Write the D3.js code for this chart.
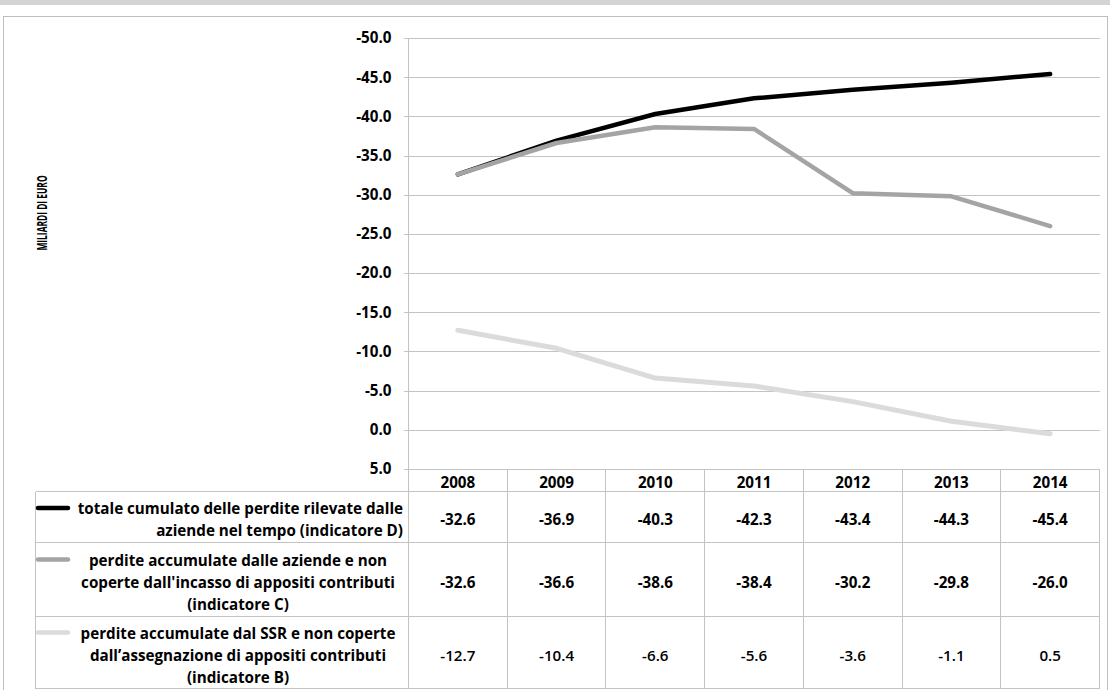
<!DOCTYPE html>
<html>
<head>
<meta charset="utf-8">
<script src="https://cdn.jsdelivr.net/npm/d3@7"></script>
<style>
  html, body { margin: 0; padding: 0; background: #fff; }
  svg { display: block; }
  text { font-family: "Open Sans", Lato, sans-serif; fill: #000; }
</style>
</head>
<body>
<svg id="chart" width="1110" height="690"></svg>
<script>
// Years shown on the category axis and in the data table header
const years = ["2008", "2009", "2010", "2011", "2012", "2013", "2014"];

// Indicatore D: totale cumulato delle perdite
const indicatoreD = [-32.6, -36.9, -40.3, -42.3, -43.4, -44.3, -45.4];
// Indicatore C: perdite non coperte dall'incasso di appositi contributi
const indicatoreC = [-32.6, -36.6, -38.6, -38.4, -30.2, -29.8, -26.0];
// Indicatore B: perdite del SSR non coperte da appositi contributi
const indicatoreB = [-12.7, -10.4, -6.6, -5.6, -3.6, -1.1, 0.5];

// Value axis tick labels
const yTicks = [-50, -45, -40, -35, -30, -25, -20, -15, -10, -5, 0, 5];

// Legend text of each table row, split into lines
const labelD = ["totale cumulato delle perdite rilevate dalle", "aziende nel tempo (indicatore D)"];
const labelC = ["perdite accumulate dalle aziende e non", "coperte dall'incasso di appositi contributi", "(indicatore C)"];
const labelB = ["perdite accumulate dal SSR e non coperte", "dall\u2019assegnazione di appositi contributi", "(indicatore B)"];

const series = [
  { name: "D", values: indicatoreD, label: labelD, color: "#000000", width: 4.5 },
  { name: "C", values: indicatoreC, label: labelC, color: "#a6a4a2", width: 4.5 },
  { name: "B", values: indicatoreB, label: labelB, color: "#dcdbda", width: 5 }
];

const svg = d3.select("#chart");
const gridColor = "#c3c3c3";
const fontSize = 15.2;

// Number format with a plain hyphen as minus sign
const locale = d3.formatLocale({ decimal: ".", thousands: "", grouping: [3], currency: ["", ""], minus: "-" });
const fmt = locale.format(".1f");

// Window band and chart frame
svg.append("rect").attr("x", 0).attr("y", 0).attr("width", 1110).attr("height", 5).attr("fill", "#d4d4d4");
svg.append("rect").attr("x", 3.5).attr("y", 16.5).attr("width", 1104).attr("height", 690)
  .attr("fill", "none").attr("stroke", "#bdbdbd");

const plot = { left: 408.5, right: 1099.5, top: 38, bottom: 469 };

const x = d3.scaleBand().domain(years).range([plot.left, plot.right]).padding(0);
const y = d3.scaleLinear().domain([-50, 5]).range([plot.top, plot.bottom]);

// Horizontal gridlines (with outer tick marks) and value labels
const yAxis = d3.axisLeft(y).tickValues(yTicks).tickFormat(fmt)
  .tickSize(-(plot.right - plot.left)).tickPadding(17);
const gy = svg.append("g").attr("transform", `translate(${plot.left},0)`).call(yAxis);
gy.select(".domain").remove();
gy.selectAll(".tick line").attr("stroke", gridColor).attr("x1", -5)
  .attr("shape-rendering", "crispEdges");
gy.selectAll(".tick text").attr("font-size", fontSize).attr("font-weight", 700)
  .attr("font-family", "'Open Sans', sans-serif").attr("fill", "#000");
// Vertical value axis line
svg.append("line").attr("x1", plot.left).attr("x2", plot.left)
  .attr("y1", plot.top).attr("y2", plot.bottom).attr("stroke", gridColor)
  .attr("shape-rendering", "crispEdges");

// Axis title (condensed, rotated)
svg.append("text")
  .attr("transform", "translate(41,213) rotate(-90) scale(1,1.7)")
  .attr("text-anchor", "middle").attr("dominant-baseline", "central")
  .attr("font-family", "Lato, sans-serif")
  .attr("font-size", 8.4).attr("font-weight", 700)
  .text("MILIARDI DI EURO");

// Series lines
const line = d3.line()
  .x((d, i) => x(years[i]) + x.bandwidth() / 2)
  .y(d => y(d));
svg.append("g").selectAll("path").data(series).join("path")
  .attr("d", s => line(s.values))
  .attr("fill", "none")
  .attr("stroke", s => s.color)
  .attr("stroke-width", s => s.width)
  .attr("stroke-linejoin", "round")
  .attr("stroke-linecap", "round");

// Data table
const tableLeft = 35.5;
const rowEdges = [469.5, 491.5, 542.5, 616.5, 688.5];
const tbl = svg.append("g").attr("stroke", gridColor).attr("shape-rendering", "crispEdges");
tbl.append("line").attr("x1", plot.left).attr("x2", plot.right).attr("y1", rowEdges[0]).attr("y2", rowEdges[0]);
rowEdges.slice(1).forEach(yy => {
  tbl.append("line").attr("x1", tableLeft).attr("x2", plot.right).attr("y1", yy).attr("y2", yy);
});
tbl.append("line").attr("x1", tableLeft).attr("x2", tableLeft).attr("y1", rowEdges[1]).attr("y2", rowEdges[4]);
years.forEach(yr => {
  const xx = x(yr);
  tbl.append("line").attr("x1", xx).attr("x2", xx).attr("y1", rowEdges[0]).attr("y2", rowEdges[4]);
});
tbl.append("line").attr("x1", plot.right).attr("x2", plot.right).attr("y1", rowEdges[0]).attr("y2", rowEdges[4]);

// Header years
svg.append("g").selectAll("text").data(years).join("text")
  .attr("x", d => x(d) + x.bandwidth() / 2)
  .attr("y", (rowEdges[0] + rowEdges[1]) / 2 + 1)
  .attr("dominant-baseline", "central")
  .attr("text-anchor", "middle").attr("font-size", fontSize).attr("font-weight", 700)
  .text(d => d);

// Values and legend for each row
const lineGap = 22;
series.forEach((s, r) => {
  const top = rowEdges[r + 1], bottom = rowEdges[r + 2];
  const mid = (top + bottom) / 2 + 2;
  svg.append("g").selectAll("text").data(s.values).join("text")
    .attr("x", (d, i) => x(years[i]) + x.bandwidth() / 2)
    .attr("y", mid)
    .attr("dominant-baseline", "central")
    .attr("text-anchor", "middle").attr("font-size", fontSize)
    .attr("font-weight", r === 2 ? 600 : 700)
    .text(d => fmt(d));

  const n = s.label.length;
  const firstY = mid - (n - 1) * lineGap / 2;
  // legend key
  svg.append("line")
    .attr("x1", 38).attr("x2", 68)
    .attr("y1", firstY).attr("y2", firstY)
    .attr("stroke", s.color).attr("stroke-width", 4.5).attr("stroke-linecap", "round");
  s.label.forEach((t, k) => {
    const rightAligned = r === 0;
    svg.append("text")
      .attr("x", rightAligned ? 403 : 238)
      .attr("y", firstY + k * lineGap)
      .attr("dominant-baseline", "central")
      .attr("text-anchor", rightAligned ? "end" : "middle")
      .attr("font-size", fontSize).attr("font-weight", 700)
      .text(t);
  });
});
</script>
</body>
</html>
